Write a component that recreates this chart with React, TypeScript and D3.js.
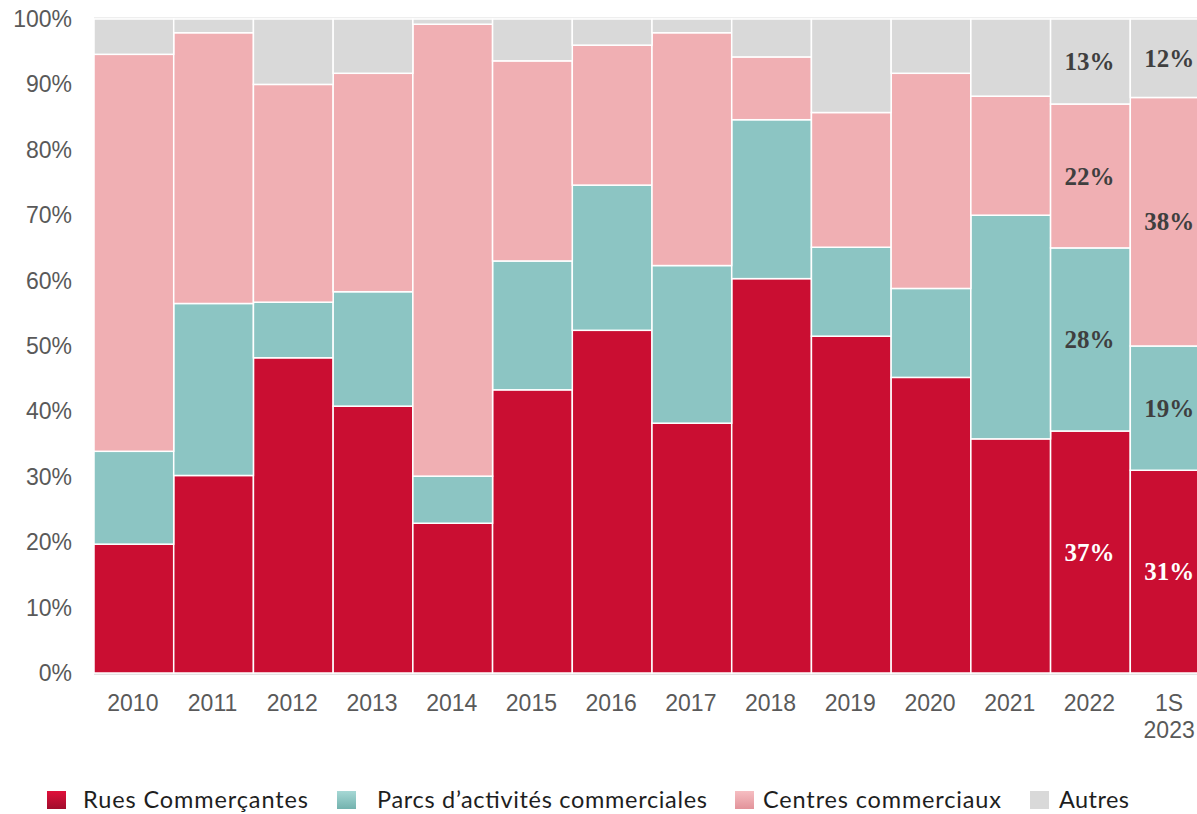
import * as d3 from "d3";

const WIDTH = 1197;
const HEIGHT = 814;
// the last bar runs past the right edge of the picture, as in the source
const MARGIN = { top: 19, right: -13, bottom: 141, left: 94 };

const YEARS = ["2010", "2011", "2012", "2013", "2014", "2015", "2016", "2017", "2018", "2019", "2020", "2021", "2022", "1S 2023"];
const RUES = [19.7, 30.2, 48.2, 40.8, 22.9, 43.3, 52.4, 38.2, 60.3, 51.5, 45.2, 35.8, 37, 31];
const PARCS = [14.2, 26.3, 8.5, 17.5, 7.2, 19.7, 22.2, 24.1, 24.3, 13.6, 13.6, 34.2, 28, 19];
const CENTRES = [60.7, 41.4, 33.3, 33.4, 69.1, 30.6, 21.4, 35.6, 9.6, 20.6, 32.9, 18.2, 22, 38];
const AUTRES = YEARS.map((_, i) => 100 - RUES[i] - PARCS[i] - CENTRES[i]);
// only the last two bars carry labels
const LABELLED = ["2022", "1S 2023"];
const Y_TICKS = [0, 10, 20, 30, 40, 50, 60, 70, 80, 90, 100];

const SERIES = [
  { key: "rues", name: "Rues Commerçantes", color: "#CA0E32", grad: ["#E0103A", "#A10D2C"], text: "#ffffff" },
  { key: "parcs", name: "Parcs d’activités commerciales", color: "#8CC5C3", grad: ["#A6D8D5", "#73B2AE"], text: "#3f3f3f" },
  { key: "centres", name: "Centres commerciaux", color: "#F0AFB3", grad: ["#F6BEC2", "#E2939A"], text: "#3f3f3f" },
  { key: "autres", name: "Autres", color: "#D9D9D9", grad: ["#D9D9D9", "#D9D9D9"], text: "#3f3f3f" },
];
const LEGEND_X = [47, 337, 735, 1030];
const LEGEND_TEXT_DX = [36, 40, 28, 29];
const LEGEND_TEXT_W = [225, 330, 238, 70];

export default function App() {
  const rows = YEARS.map((year, i) => ({
    year,
    rues: RUES[i],
    parcs: PARCS[i],
    centres: CENTRES[i],
    autres: AUTRES[i],
  }));
  const stacked = d3.stack<any>().keys(SERIES.map((s) => s.key))(rows);

  const x = d3
    .scaleBand()
    .domain(YEARS)
    .range([MARGIN.left, WIDTH - MARGIN.right])
    .paddingInner(0)
    .paddingOuter(0);
  const y = d3
    .scaleLinear()
    .domain([0, 100])
    .range([HEIGHT - MARGIN.bottom, MARGIN.top]);

  const axisFont = "'Liberation Sans', Arial, sans-serif";
  const mid = (year: string) => (x(year) as number) + x.bandwidth() / 2 - 1;

  return (
    <div style={{ position: "absolute", left: 0, top: 0 }}>
      <svg width={WIDTH} height={HEIGHT} style={{ display: "block", background: "#fff" }}>
        <defs>
          {SERIES.map((s) => (
            <linearGradient key={s.key} id={`grad-${s.key}`} x1="0" x2="0" y1="0" y2="1">
              <stop offset="0%" stopColor={s.grad[0]} />
              <stop offset="100%" stopColor={s.grad[1]} />
            </linearGradient>
          ))}
        </defs>

        <line x1={MARGIN.left} x2={WIDTH} y1={y(100) - 1} y2={y(100) - 1} stroke="#eeeeee" strokeWidth={2} />
        <line x1={MARGIN.left} x2={WIDTH} y1={y(0) + 1} y2={y(0) + 1} stroke="#e2e2e2" strokeWidth={2} />

        {stacked.map((layer, li) => (
          <g key={layer.key}>
            {layer.map((d) => (
              <rect
                key={d.data.year}
                x={x(d.data.year)}
                y={y(d[1])}
                width={x.bandwidth()}
                height={y(d[0]) - y(d[1])}
                fill={SERIES[li].color}
                stroke="#ffffff"
                strokeWidth={1.5}
              />
            ))}
          </g>
        ))}

        {stacked.map((layer, li) =>
          layer
            .filter((d) => LABELLED.includes(d.data.year))
            .map((d) => (
              <text
                key={`${layer.key}-${d.data.year}`}
                x={mid(d.data.year)}
                y={(y(d[0]) + y(d[1])) / 2}
                dy="0.35em"
                textAnchor="middle"
                fontFamily="'Liberation Serif', 'Times New Roman', serif"
                fontWeight="bold"
                fontSize={25}
                fill={SERIES[li].text}
              >
                {Math.round(d[1] - d[0])}%
              </text>
            )),
        )}

        {Y_TICKS.map((t) => (
          <text
            key={t}
            x={72}
            y={y(t)}
            dy="0.35em"
            textAnchor="end"
            fontFamily={axisFont}
            fontSize={23}
            fill="#595959"
          >
            {t}%
          </text>
        ))}

        {YEARS.map((year) => {
          const parts = year.split(" ");
          const cx = mid(year);
          return (
            <text key={year} x={cx} y={711} textAnchor="middle" fontFamily={axisFont} fontSize={23} fill="#595959">
              {parts.map((p, i) => (
                <tspan key={p} x={cx} dy={i === 0 ? 0 : 27}>
                  {p}
                </tspan>
              ))}
            </text>
          );
        })}

        {SERIES.map((s, i) => (
          <g key={s.key} transform={`translate(${LEGEND_X[i]},791)`}>
            <rect width={19} height={18} fill={`url(#grad-${s.key})`} />
            <text
              x={LEGEND_TEXT_DX[i]}
              y={9}
              dy="0.36em"
              fontFamily="Lato, 'Open Sans', sans-serif"
              fontSize={23.5}
              fill="#1e1e1e"
              textLength={LEGEND_TEXT_W[i]}
            >
              {s.name}
            </text>
          </g>
        ))}
      </svg>
    </div>
  );
}
